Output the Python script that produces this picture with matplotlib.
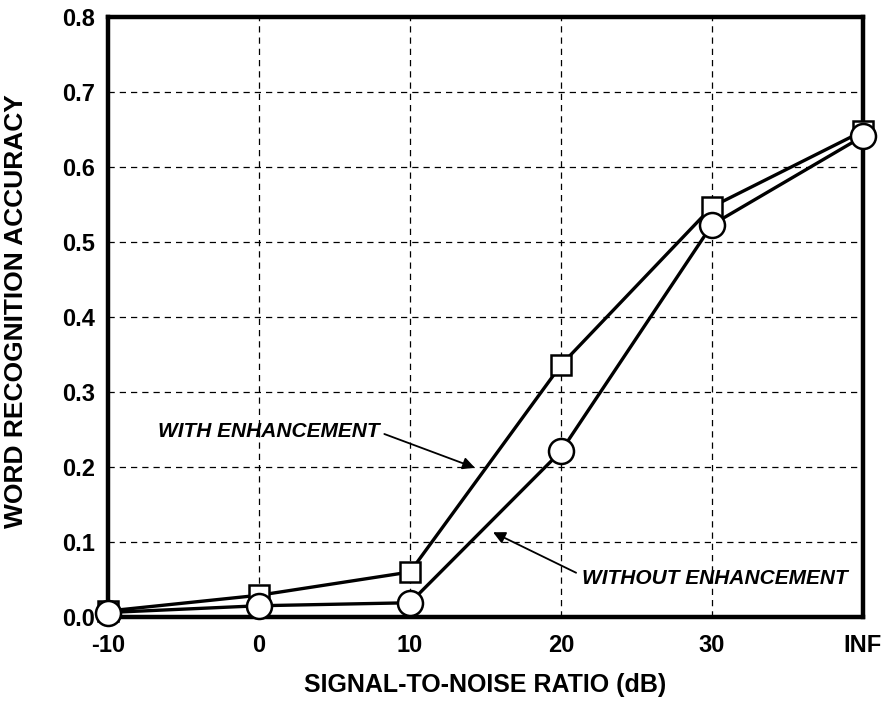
import numpy as np
from matplotlib import pyplot as plt

# SNR conditions (equally spaced on the plot)
snrLabels = ["-10", "0", "10", "20", "30", "INF"]
withEnh = [0.008, 0.029, 0.060, 0.336, 0.547, 0.648]
withoutEnh = [0.006, 0.015, 0.019, 0.221, 0.523, 0.641]

plt.rcParams['font.family'] = ['Liberation Sans', 'DejaVu Sans']

fig = plt.figure(figsize=(8.95, 7.04), dpi=100)
ax = fig.add_axes([108 / 895, 1 - 617 / 704, 755 / 895, 600 / 704])

xPos = np.arange(len(snrLabels))

ax.plot(xPos, withEnh, color='black', linewidth=2.4, marker='s', markersize=15,
        markerfacecolor='white', markeredgecolor='black', markeredgewidth=1.8,
        zorder=3, clip_on=False)
ax.plot(xPos, withoutEnh, color='black', linewidth=2.4, marker='o', markersize=18,
        markerfacecolor='white', markeredgecolor='black', markeredgewidth=1.8,
        zorder=4, clip_on=False)

ax.set_xlim(0, len(snrLabels) - 1)
ax.set_ylim(0, 0.8)
ax.set_xticks(xPos)
ax.set_xticklabels(snrLabels)
ax.set_yticks(np.arange(0, 0.81, 0.1))
ax.set_yticklabels(["%.1f" % v for v in np.arange(0, 0.81, 0.1)])
ax.tick_params(length=0, labelsize=17)
ax.tick_params(axis='x', pad=12)
ax.tick_params(axis='y', pad=9)
for lab in ax.get_xticklabels() + ax.get_yticklabels():
    lab.set_fontweight('bold')

ax.grid(True, color='black', linestyle=(0, (5, 4)), linewidth=0.9)
for sp in ax.spines.values():
    sp.set_linewidth(3.2)
ax.set_axisbelow(True)

ax.set_xlabel('SIGNAL-TO-NOISE RATIO (dB)', fontsize=18, fontweight='bold', labelpad=12)
ax.set_ylabel('WORD RECOGNITION ACCURACY', fontsize=19, fontweight='bold')
ax.yaxis.set_label_coords(-80 / 755, 0.51)

# Annotations with arrows
annFont = dict(fontsize=15, fontweight='bold', fontstyle='italic', va='center')
arrowStyle = dict(arrowstyle='-|>', color='black', lw=1.3, mutation_scale=18,
                  shrinkA=0, shrinkB=0)

ax.text(0.33, 0.247, 'WITH ENHANCEMENT', ha='left', **annFont)
ax.annotate('', xy=(2.43, 0.199), xytext=(1.83, 0.244), arrowprops=arrowStyle)

ax.text(3.14, 0.052, 'WITHOUT ENHANCEMENT', ha='left', **annFont)
ax.annotate('', xy=(2.55, 0.113), xytext=(3.10, 0.059), arrowprops=arrowStyle)

plt.savefig("out.png", dpi=100)
